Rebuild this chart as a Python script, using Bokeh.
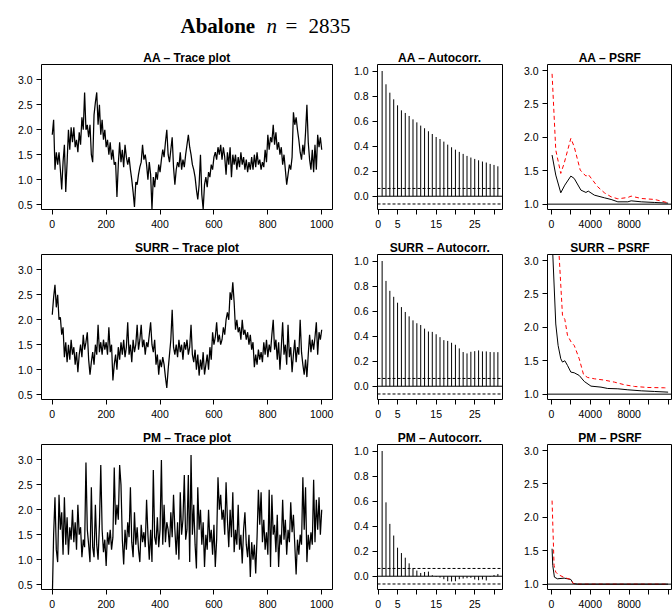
import numpy as np
from bokeh.plotting import figure
from bokeh.layouts import column, row
from bokeh.models import FixedTicker, Range1d, Span, Label, PrintfTickFormatter
from bokeh.embed import file_html
from bokeh.resources import INLINE

# ---------------- data ----------------
trace_step = 5  # one stored value every 5 iterations
aa_trace = [1.9, 2.2, 1.2, 1.55, 1.3, 1.55, 1.2, 0.8, 1.35, 1.7, 0.75, 1.35, 2.0, 1.6, 2.05, 1.75, 2.05, 1.65, 1.8, 1.55,
            1.95, 1.7, 2.25, 2.0, 2.75, 2.0, 2.1, 1.85, 2.1, 1.5, 1.35, 2.3, 2.55, 2.75, 2.1, 2.5, 1.9, 2.2, 1.8, 2.0,
            1.65, 1.8, 1.5, 1.75, 1.4, 1.6, 1.3, 1.35, 0.65, 1.3, 1.75, 1.35, 1.6, 1.25, 1.7, 1.45, 1.3, 1.45, 1.2, 1.0,
            0.75, 0.45, 0.95, 0.9, 1.1, 1.25, 1.35, 1.7, 1.4, 1.5, 1.3, 1.0, 1.35, 1.1, 0.4, 1.05, 0.85, 1.15, 1.0, 1.3,
            1.15, 1.4, 1.6, 1.45, 1.75, 2.0, 1.5, 1.35, 1.6, 1.85, 1.25, 0.9, 1.2, 1.35, 1.25, 1.55, 1.2, 1.4, 1.25, 1.5,
            1.7, 1.9, 1.65, 1.5, 1.3, 1.2, 1.05, 0.8, 0.6, 0.9, 1.5, 0.7, 0.4, 0.9, 1.05, 0.85, 1.15, 1.05, 1.3, 1.2,
            1.45, 1.55, 1.4, 1.65, 1.5, 1.7, 1.4, 1.65, 1.45, 1.1, 1.55, 1.3, 1.65, 1.05, 1.5, 1.3, 1.5, 1.2, 1.45, 1.25,
            1.55, 1.3, 1.45, 1.2, 1.4, 1.15, 1.35, 1.2, 1.45, 1.2, 1.5, 1.25, 1.55, 1.3, 1.4, 1.2, 1.35, 1.25, 1.6, 1.35,
            1.9, 1.6, 1.85, 1.75, 2.1, 1.7, 1.95, 1.6, 1.75, 1.5, 1.65, 1.3, 1.5, 1.2, 0.9, 1.1, 1.3, 1.2, 1.45, 2.35,
            2.1, 2.25, 2.0, 1.8, 1.55, 1.4, 1.7, 1.5, 1.95, 2.5, 1.75, 1.4, 1.2, 1.6, 1.15, 1.7, 1.2, 1.9, 1.65, 1.85,
            1.6]
surr_trace = [2.1, 2.45, 2.7, 2.25, 2.5, 2.0, 2.05, 1.7, 1.85, 1.25, 1.55, 1.15, 1.5, 1.2, 1.6, 1.3, 1.45, 1.1, 1.35, 0.95,
              1.3, 1.5, 1.25, 1.7, 1.4, 1.55, 1.75, 1.2, 0.9, 1.15, 1.35, 1.1, 1.5, 1.3, 1.9, 1.35, 1.55, 1.3, 1.6, 1.4,
              1.55, 1.3, 1.85, 1.35, 1.5, 0.78, 1.1, 1.3, 1.0, 1.45, 1.2, 1.55, 1.3, 1.6, 1.25, 1.45, 1.95, 1.3, 1.5, 1.15,
              1.6, 1.35, 1.5, 1.9, 1.4, 1.6, 1.9, 1.45, 1.6, 1.3, 1.55, 1.45, 1.7, 1.95, 1.5, 1.35, 1.6, 1.1, 1.3, 0.9,
              1.2, 1.05, 1.25, 1.1, 0.85, 0.63, 1.0, 1.3, 1.6, 2.2, 1.45, 1.3, 1.5, 1.25, 1.6, 1.35, 1.5, 1.2, 1.55, 1.4,
              1.6, 1.3, 1.45, 1.9, 1.3, 1.15, 1.4, 1.0, 1.3, 0.88, 1.2, 1.0, 1.35, 0.9, 1.1, 1.3, 1.0, 1.45, 1.2, 1.75,
              1.5, 1.65, 1.95, 1.55, 1.7, 1.5, 1.6, 1.85, 1.7, 2.0, 2.15, 2.0, 2.55, 2.4, 2.75, 2.35, 1.8, 2.0, 1.75, 1.85,
              1.6, 2.0, 1.7, 1.8, 1.6, 1.75, 1.5, 1.7, 1.4, 1.55, 1.05, 1.3, 1.1, 1.4, 1.2, 1.35, 1.15, 1.55, 1.3, 1.6,
              1.25, 1.5, 1.35, 1.7, 2.0, 1.4, 1.6, 1.2, 1.55, 1.0, 1.45, 1.95, 1.3, 1.5, 1.1, 1.9, 1.25, 1.45, 0.95, 1.3,
              1.6, 1.15, 1.45, 1.3, 2.0, 1.35, 1.1, 0.9, 1.2, 0.85, 1.3, 1.7, 1.35, 1.6, 1.4, 1.65, 1.95, 1.3, 1.75, 1.6,
              1.8]
pm_trace = [0.2, 1.5, 2.25, 1.2, 0.95, 2.3, 1.6, 1.95, 1.1, 2.25, 1.3, 1.85, 1.1, 1.65, 1.4, 2.0, 1.35, 1.75, 1.2, 2.1,
            1.5, 1.65, 1.05, 1.4, 1.25, 2.95, 1.6, 1.3, 0.95, 2.45, 1.25, 1.05, 2.1, 1.3, 1.0, 1.7, 2.9, 1.6, 1.15, 1.4,
            0.87, 1.55, 1.3, 1.6, 1.2, 1.45, 2.85, 1.7, 2.1, 1.8, 2.9, 2.5, 1.4, 0.9, 1.6, 1.2, 1.75, 1.45, 2.45, 1.35,
            1.05, 1.95, 1.3, 1.65, 1.2, 0.95, 1.7, 1.35, 1.55, 1.25, 2.2, 1.5, 1.0, 1.6, 0.95, 2.8, 1.45, 1.3, 1.85, 1.25,
            1.6, 3.0, 1.3, 2.1, 1.35, 1.75, 1.6, 1.25, 1.95, 1.45, 2.3, 1.6, 1.1, 1.75, 1.0, 2.35, 1.5, 1.8, 2.7, 1.4,
            1.6, 2.7, 0.95, 3.1, 1.5, 2.1, 1.3, 0.82, 2.45, 1.6, 2.0, 1.3, 1.75, 0.85, 1.5, 1.2, 2.0, 1.35, 1.6, 1.1,
            1.7, 0.85, 1.4, 2.65, 2.0, 2.3, 1.8, 2.0, 1.5, 2.55, 1.8, 1.25, 2.0, 1.45, 2.35, 1.15, 1.6, 1.3, 2.1, 1.2,
            1.5, 0.92, 1.6, 1.95, 1.3, 1.05, 1.5, 0.65, 1.35, 1.0, 1.3, 0.72, 1.45, 2.4, 1.7, 2.35, 1.35, 1.8, 1.2, 1.55,
            1.1, 2.4, 0.85, 2.3, 1.5, 1.7, 1.15, 1.9, 0.85, 1.5, 1.3, 2.2, 1.4, 1.8, 1.1, 1.6, 1.35, 2.15, 1.55, 1.9,
            1.3, 0.7, 1.4, 1.1, 1.5, 1.3, 2.65, 1.6, 2.45, 0.95, 1.5, 1.2, 1.55, 1.3, 2.6, 1.35, 2.2, 1.6, 2.25, 1.5,
            2.0]

aa_acf = [1.0, 0.894, 0.827, 0.774, 0.726, 0.686, 0.665, 0.641, 0.614, 0.590, 0.564, 0.543, 0.519, 0.497, 0.473,
          0.457, 0.436, 0.412, 0.391, 0.372, 0.354, 0.338, 0.322, 0.309, 0.298, 0.287, 0.277, 0.269, 0.258, 0.250, 0.239]
surr_acf = [1.0, 0.841, 0.762, 0.714, 0.667, 0.632, 0.593, 0.558, 0.526, 0.503, 0.489, 0.460, 0.437, 0.434, 0.415,
            0.392, 0.368, 0.362, 0.347, 0.331, 0.302, 0.273, 0.262, 0.275, 0.280, 0.286, 0.278, 0.278, 0.273, 0.272, 0.272]
pm_acf = [1.0, 0.590, 0.418, 0.325, 0.228, 0.185, 0.148, 0.103, 0.061, 0.045, 0.026, 0.034, 0.037, 0.008, -0.005,
          -0.011, -0.024, -0.040, -0.042, -0.040, -0.024, -0.019, -0.016, -0.013, -0.026, -0.032, -0.026, -0.034,
          -0.005, 0.010, 0.018]
acf_band = 0.062

aa_psrf_x = [70, 450, 965, 1380, 2000, 2345, 3035, 3550, 3790, 4415, 5450, 6140, 6830, 7860, 8200, 9240, 10620, 12000]
aa_psrf = [1.735, 1.435, 1.17, 1.285, 1.42, 1.385, 1.21, 1.175, 1.195, 1.135, 1.095, 1.07, 1.035, 1.035, 1.05, 1.035, 1.025, 1.015]
aa_psrf_up_x = [70, 450, 965, 1310, 2000, 2345, 2965, 3550, 3790, 4760, 5450, 6140, 6830, 7860, 8200, 9240, 10620, 12000]
aa_psrf_up = [2.95, 1.81, 1.46, 1.61, 1.985, 1.86, 1.51, 1.42, 1.445, 1.26, 1.17, 1.11, 1.08, 1.10, 1.12, 1.085, 1.07, 1.02]

surr_psrf_x = [70, 450, 690, 965, 1140, 1380, 1655, 2000, 2345, 2860, 3380, 4070, 5100, 5790, 6830, 7860, 9240, 10620, 12000]
surr_psrf = [3.35, 2.05, 1.73, 1.53, 1.48, 1.50, 1.43, 1.33, 1.32, 1.28, 1.19, 1.12, 1.105, 1.085, 1.08, 1.065, 1.05, 1.04, 1.03]
surr_psrf_up_x = [70, 450, 1140, 1380, 1655, 2070, 2345, 2860, 3310, 3720, 4415, 5450, 6480, 7520, 8550, 9930, 11650, 12000]
surr_psrf_up = [6.0, 3.97, 2.18, 2.12, 1.88, 1.77, 1.73, 1.53, 1.29, 1.25, 1.23, 1.21, 1.18, 1.14, 1.115, 1.10, 1.095, 1.09]

pm_psrf_x = [70, 140, 310, 620, 1310, 2000, 2240, 2690, 12000]
pm_psrf = [1.53, 1.28, 1.105, 1.08, 1.09, 1.07, 1.01, 1.0, 1.0]
pm_psrf_up_x = [70, 275, 450, 690, 1310, 2000, 2240, 2690, 12000]
pm_psrf_up = [2.25, 1.28, 1.18, 1.145, 1.10, 1.07, 1.01, 1.0, 1.0]

row_names = ["AA", "SURR", "PM"]
traces = [aa_trace, surr_trace, pm_trace]
acfs = [aa_acf, surr_acf, pm_acf]
psrfs = [(aa_psrf_x, aa_psrf, aa_psrf_up_x, aa_psrf_up),
         (surr_psrf_x, surr_psrf, surr_psrf_up_x, surr_psrf_up),
         (pm_psrf_x, pm_psrf, pm_psrf_up_x, pm_psrf_up)]

trace_xticks = [0, 200, 400, 600, 800, 1000]
trace_yticks = [0.5, 1.0, 1.5, 2.0, 2.5, 3.0]
acf_xticks = [0, 5, 10, 15, 20, 25, 30]
acf_xhidden = [10, 20, 30]
acf_yticks = [0.0, 0.2, 0.4, 0.6, 0.8, 1.0]
psrf_xticks = [0, 2000, 4000, 6000, 8000, 10000, 12000]
psrf_xhidden = [2000, 6000, 10000, 12000]
psrf_yticks = [1.0, 1.5, 2.0, 2.5, 3.0]

FONT = "Liberation Sans"


def style(p, xticks, yticks, xhidden=()):
    p.grid.visible = False
    p.outline_line_color = "black"
    p.outline_line_width = 1
    p.outline_line_alpha = 1
    p.background_fill_color = "white"
    p.border_fill_color = "white"
    p.title.align = "center"
    p.title.text_font = FONT
    p.title.text_font_style = "bold"
    p.title.text_font_size = "12px"
    p.title.text_color = "black"
    p.title.standoff = 0
    for ax in (p.xaxis[0], p.yaxis[0]):
        ax.axis_line_color = None
        ax.major_tick_line_color = "black"
        ax.major_tick_in = 0
        ax.major_tick_out = 5
        ax.minor_tick_line_color = None
        ax.major_label_text_font = FONT
        ax.major_label_text_font_size = "10.5px"
        ax.major_label_text_color = "black"
    p.xaxis[0].ticker = FixedTicker(ticks=xticks)
    p.yaxis[0].ticker = FixedTicker(ticks=yticks)
    p.yaxis[0].formatter = PrintfTickFormatter(format="%.1f")
    p.xaxis[0].major_label_standoff = 5
    p.yaxis[0].major_label_standoff = 4
    if xhidden:
        p.xaxis[0].major_label_overrides = {t: "" for t in xhidden}


rows = []
for i, name in enumerate(row_names):
    bb = 22 if i < 2 else 23
    common = dict(frame_height=145, min_border_top=23, min_border_bottom=bb,
                  output_backend="svg", toolbar_location=None)

    # trace plot
    f1 = figure(frame_width=291, min_border_left=41, min_border_right=4,
                x_range=Range1d(-40, 1040), y_range=Range1d(0.40, 3.31),
                title=f"{name} \u2013 Trace plot", **common)
    vals = traces[i]
    iters = np.arange(len(vals)) * trace_step
    f1.line(iters, vals, line_color="black", line_width=1.25)
    style(f1, trace_xticks, trace_yticks)

    # autocorrelation
    f2 = figure(frame_width=125, min_border_left=41, min_border_right=2,
                x_range=Range1d(-0.2, 32.2), y_range=Range1d(-0.106, 1.052),
                title=f"{name} \u2013 Autocorr.", **common)
    acf = acfs[i]
    lags = np.arange(1, len(acf) + 1)
    f2.segment(x0=lags, y0=np.zeros(len(acf)), x1=lags, y1=acf, line_color="black", line_width=1)
    f2.add_layout(Span(location=0, dimension="width", line_color="black", line_width=1))
    for loc in (acf_band, -acf_band):
        f2.add_layout(Span(location=loc, dimension="width", line_color="black", line_width=1, line_dash="3 2"))
    style(f2, acf_xticks, acf_yticks, acf_xhidden)

    # PSRF
    f3 = figure(frame_width=125, min_border_left=43, min_border_right=0,
                x_range=Range1d(-400, 12450), y_range=Range1d(0.92, 3.09),
                title=f"{name} \u2013 PSRF", **common)
    px, py, ux, uy = psrfs[i]
    f3.add_layout(Span(location=1.0, dimension="width", line_color="black", line_width=1))
    f3.line(px, py, line_color="black", line_width=1)
    f3.line(ux, uy, line_color="#FF0000", line_width=1, line_dash="4 3")
    style(f3, psrf_xticks, psrf_yticks, psrf_xhidden)

    rows.append(row(f1, f2, f3))

# overall title (y measured upward from the bottom of the 41 px strip)
tf = figure(width=672, height=41, x_range=Range1d(0, 672), y_range=Range1d(0, 41),
            x_axis_type=None, y_axis_type=None, min_border=0, toolbar_location=None,
            output_backend="svg")
tf.grid.visible = False
tf.outline_line_color = None
tf.border_fill_color = "white"
tf.background_fill_color = "white"
serif = "Liberation Serif"
title_y = 16
for tx, txt, style_ in [(180, "Abalone", "bold"), (266, "n", "italic"), (285, "=", "normal"), (308, "2835", "normal")]:
    tf.add_layout(Label(x=tx, y=title_y, text=txt, text_font=serif, text_font_style=style_,
                        text_font_size="21px", text_baseline="middle", text_align="left",
                        text_color="black"))

layout = column(tf, *rows)
open("out.html", "w").write(file_html(layout, INLINE))
